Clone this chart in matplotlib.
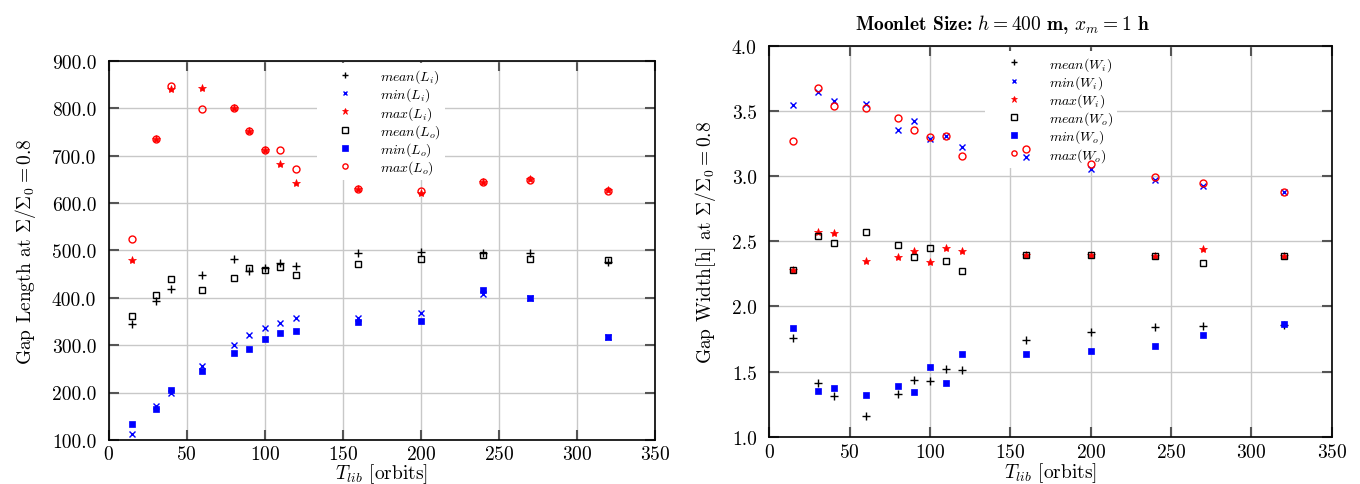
import numpy as np
import matplotlib
matplotlib.use('Agg')
import matplotlib.pyplot as plt
from matplotlib.ticker import FormatStrFormatter

plt.rcParams['font.family'] = 'serif'
plt.rcParams['font.serif'] = ['cmr10', 'DejaVu Serif']
plt.rcParams['mathtext.fontset'] = 'cm'
plt.rcParams['axes.formatter.use_mathtext'] = True

# orbits
T_lib = [15, 30, 40, 60, 80, 90, 100, 110, 120, 160, 200, 240, 270, 320]

# gap length
mean_Li = [345, 393, 418, 449, 481, 457, 463, 474, 467, 494, 497, 494, 494, 476]
min_Li = [112, 171, 198, 256, 300, 321, 337, 347, 357, 358, 368, 408, 400, 318]
max_Li = [479, 735, 842, 844, 800, 753, 712, 683, 643, 630, 622, 645, 652, 627]
mean_Lo = [361, 405, 439, 417, 441, 463, 458, 466, 448, 472, 482, 491, 483, 479]
min_Lo = [133, 166, 206, 245, 283, 292, 312, 325, 330, 349, 350, 416, 400, 318]
max_Lo = [525, 735, 848, 799, 800, 753, 712, 712, 672, 629, 625, 645, 648, 625]

# gap width
mean_Wi = [1.756, 1.416, 1.311, 1.158, 1.331, 1.434, 1.426, 1.521, 1.513, 1.743, 1.802, 1.84, 1.853, 1.86]
min_Wi = [3.548, 3.647, 3.574, 3.553, 3.356, 3.423, 3.28, 3.305, 3.22, 3.144, 3.054, 2.972, 2.926, 2.876]
max_Wi = [2.28, 2.574, 2.564, 2.349, 2.377, 2.428, 2.344, 2.446, 2.423, 2.397, 2.392, 2.39, 2.441, 2.39]
mean_Wo = [2.28, 2.541, 2.489, 2.574, 2.472, 2.377, 2.451, 2.347, 2.272, 2.397, 2.392, 2.39, 2.331, 2.39]
min_Wo = [1.835, 1.354, 1.377, 1.324, 1.393, 1.347, 1.536, 1.413, 1.636, 1.638, 1.656, 1.695, 1.781, 1.864]
max_Wo = [3.267, 3.678, 3.535, 3.52, 3.448, 3.356, 3.30, 3.305, 3.154, 3.208, 3.093, 2.995, 2.947, 2.876]

styles = [dict(marker='+', color='k', ms=6, mew=1.0, ls='none'),
          dict(marker='x', color='b', ms=4, mew=1.0, ls='none'),
          dict(marker='*', color='r', ms=6, mew=0.5, ls='none'),
          dict(marker='s', mfc='none', mec='k', ms=5, mew=1.0, ls='none'),
          dict(marker='s', color='b', ms=5, mew=0.5, ls='none'),
          dict(marker='o', mfc='none', mec='r', ms=5, mew=1.0, ls='none')]

fig = plt.figure(figsize=(13.6, 4.85), dpi=100)
ax1 = fig.add_axes([0.080, 0.091, 0.4016, 0.781])
ax2 = fig.add_axes([0.5657, 0.097, 0.4136, 0.807])


def style_axes(ax, xpad):
    ax.grid(True, color='#c8c8c8', lw=1.0)
    ax.set_axisbelow(True)
    ax.tick_params(direction='in', length=7, width=1.5, color='#555555',
                   top=True, right=True, labelsize=14)
    ax.tick_params(axis='x', pad=4)
    ax.tick_params(axis='y', pad=9)
    for s in ax.spines.values():
        s.set_linewidth(1.2)
    ax.set_xlim(0, 350)
    ax.set_xlabel(r'$T_{lib}$ [orbits]', fontsize=14, labelpad=xpad)


def add_legend(ax, x, y):
    leg = ax.legend(loc='upper left', bbox_to_anchor=(x, y), borderaxespad=0,
                    frameon=True, fontsize=10, handlelength=3.5,
                    handletextpad=0.76, labelspacing=0.03, borderpad=0.3,
                    numpoints=1, markerscale=0.75, fancybox=False)
    leg.get_frame().set_edgecolor('none')
    leg.get_frame().set_facecolor('white')
    leg.get_frame().set_alpha(1.0)
    leg.set_zorder(1.5)


# left: gap length
series_L = [mean_Li, min_Li, max_Li, mean_Lo, min_Lo, max_Lo]
labels_L = [r'$mean(L_i)$', r'$min(L_i)$', r'$max(L_i)$',
            r'$mean(L_o)$', r'$min(L_o)$', r'$max(L_o)$']
for y, lab, st in zip(series_L, labels_L, styles):
    ax1.plot(T_lib, y, label=lab, **st)
style_axes(ax1, -1.5)
ax1.set_ylim(100, 900)
ax1.yaxis.set_major_formatter(FormatStrFormatter('%.1f'))
ax1.set_ylabel(r'Gap Length at $\Sigma/\Sigma_0 = 0.8$', fontsize=14, labelpad=10)
add_legend(ax1, 0.381, 0.994)

# right: gap width
series_W = [mean_Wi, min_Wi, max_Wi, mean_Wo, min_Wo, max_Wo]
labels_W = [r'$mean(W_i)$', r'$min(W_i)$', r'$max(W_i)$',
            r'$mean(W_o)$', r'$min(W_o)$', r'$max(W_o)$']
for y, lab, st in zip(series_W, labels_W, styles):
    ax2.plot(T_lib, y, label=lab, **st)
style_axes(ax2, 0)
ax2.set_ylim(1.0, 4.0)
ax2.yaxis.set_major_formatter(FormatStrFormatter('%.1f'))
ax2.set_ylabel(r'Gap Width[h] at $\Sigma/\Sigma_0 = 0.8$', fontsize=14, labelpad=10)
ax2.set_title(r'Moonlet Size: $h = 400$ m, $x_m = 1$ h', fontsize=14,
              fontfamily='cmb10', pad=12, x=0.414)
add_legend(ax2, 0.384, 0.987)

fig.savefig('out.png', dpi=100)
